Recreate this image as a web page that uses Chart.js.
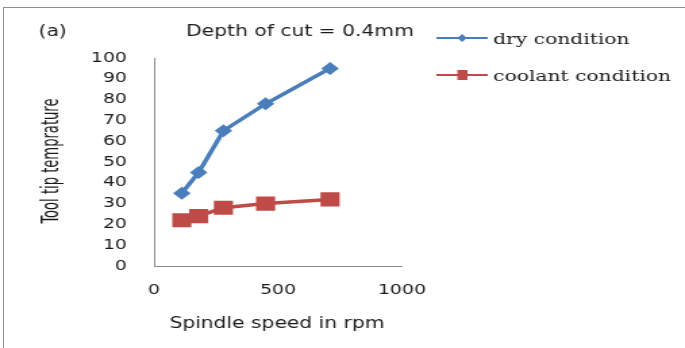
<!DOCTYPE html>
<html>
<head>
<meta charset="utf-8">
<script src="https://cdn.jsdelivr.net/npm/chart.js@4"></script>
<style>
  html, body { margin: 0; padding: 0; background: #fff; }
  #wrap { position: relative; width: 685px; height: 348px; overflow: hidden; }
  #frame { position: absolute; left: 3px; top: 7px; width: 720px; height: 400px; border: 1px solid #8f8f8f; box-sizing: border-box; }
  #chart { position: absolute; left: 0; top: 0; }
</style>
</head>
<body>
<div id="wrap">
  <div id="frame"></div>
  <!-- the reference is stretched sideways, so the canvas is drawn narrow and widened by its inline style -->
  <canvas id="chart" width="507" height="348" style="width:685px;height:348px"></canvas>
</div>
<script>
// 데이터
const speeds = [112, 180, 280, 450, 710];
const dryTemp = [35, 45, 65, 78, 95];
const coolantTemp = [22, 24, 28, 30, 32];
const xTicks = [0, 500, 1000];
const yTicks = [0, 10, 20, 30, 40, 50, 60, 70, 80, 90, 100];

const BLUE = '#4a7ebb';
const RED = '#be4b48';
const SANS = '"DejaVu Sans", Verdana, sans-serif';
const SERIF = '"DejaVu Serif", serif';

const toPoints = (xs, ys) => xs.map((x, i) => ({ x, y: ys[i] }));

// 제목, 축 제목, 범례는 직접 그림
const textPlugin = {
    id: 'texts',
    afterDraw(chart) {
        const ctx = chart.ctx;
        ctx.save();
        ctx.fillStyle = '#1a1a1a';
        ctx.textBaseline = 'middle';

        ctx.font = '15px ' + SANS;
        ctx.textAlign = 'center';
        ctx.fillText('(a)', 39, 32);
        ctx.fillText('Depth of cut = 0.4mm', 222, 32);
        ctx.fillText('Spindle speed in rpm', 205, 324);

        // 세로 축 제목: 좁은 글꼴처럼 길이를 맞춤
        ctx.save();
        ctx.translate(39, 161);
        ctx.rotate(-Math.PI / 2);
        ctx.font = '17px "Liberation Sans Narrow", "DejaVu Sans Condensed", sans-serif';
        const yTitle = 'Tool tip temprature';
        const w = ctx.measureText(yTitle).width;
        ctx.scale(125 / w, 1);
        ctx.fillText(yTitle, 0, 0);
        ctx.restore();

        // 범례
        const rows = [
            { label: 'dry condition', color: BLUE, y: 38, shape: 'diamond' },
            { label: 'coolant condition', color: RED, y: 75, shape: 'square' },
        ];
        rows.forEach(r => {
            ctx.strokeStyle = r.color;
            ctx.lineWidth = 2;
            ctx.beginPath();
            ctx.moveTo(323, r.y);
            ctx.lineTo(361, r.y);
            ctx.stroke();
            ctx.fillStyle = r.color;
            ctx.beginPath();
            if (r.shape === 'diamond') {
                ctx.moveTo(342, r.y - 4);
                ctx.lineTo(345.5, r.y);
                ctx.lineTo(342, r.y + 4);
                ctx.lineTo(338.5, r.y);
                ctx.closePath();
            } else {
                ctx.rect(338.5, r.y - 5, 7.5, 10);
            }
            ctx.fill();
            ctx.fillStyle = '#1a1a1a';
            ctx.font = '15px ' + SERIF;
            ctx.textAlign = 'left';
            ctx.fillText(r.label, 365, r.y + 2);
        });
        ctx.restore();
    }
};

new Chart(document.getElementById('chart'), {
    type: 'scatter',
    data: {
        datasets: [
            {
                label: 'dry condition',
                data: toPoints(speeds, dryTemp),
                showLine: true,
                borderColor: BLUE,
                backgroundColor: BLUE,
                borderWidth: 3.5,
                pointStyle: 'rectRot',
                pointRadius: 6.5,
                pointBorderWidth: 0,
            },
            {
                label: 'coolant condition',
                data: toPoints(speeds, coolantTemp),
                showLine: true,
                borderColor: RED,
                backgroundColor: RED,
                borderWidth: 3.5,
                pointStyle: 'rect',
                pointRadius: 10,
                pointBorderWidth: 0,
            }
        ]
    },
    options: {
        responsive: false,
        animation: false,
        events: [],
        layout: { padding: { left: 0, top: 58, right: 209.5, bottom: 0 } },
        plugins: {
            legend: { display: false },
            title: { display: false },
            tooltip: { enabled: false }
        },
        scales: {
            x: {
                type: 'linear',
                min: 0,
                max: 1000,
                afterFit: s => { s.height = 82; },
                afterBuildTicks: s => { s.ticks = xTicks.map(v => ({ value: v })); },
                grid: { display: false, drawTicks: false },
                border: { display: true, color: '#8c8c8c', width: 1 },
                ticks: {
                    color: '#1a1a1a', font: { family: SANS, size: 14 }, padding: 16, maxRotation: 0,
                    callback: v => String(v)
                }
            },
            y: {
                type: 'linear',
                min: 0,
                max: 100,
                afterFit: s => { s.width = 114; },
                afterBuildTicks: s => { s.ticks = yTicks.map(v => ({ value: v })); },
                grid: { display: false, drawTicks: false },
                border: { display: true, color: '#8c8c8c', width: 1 },
                ticks: { color: '#1a1a1a', font: { family: SANS, size: 14 }, padding: 20 }
            }
        }
    },
    plugins: [textPlugin]
});
</script>
</body>
</html>
